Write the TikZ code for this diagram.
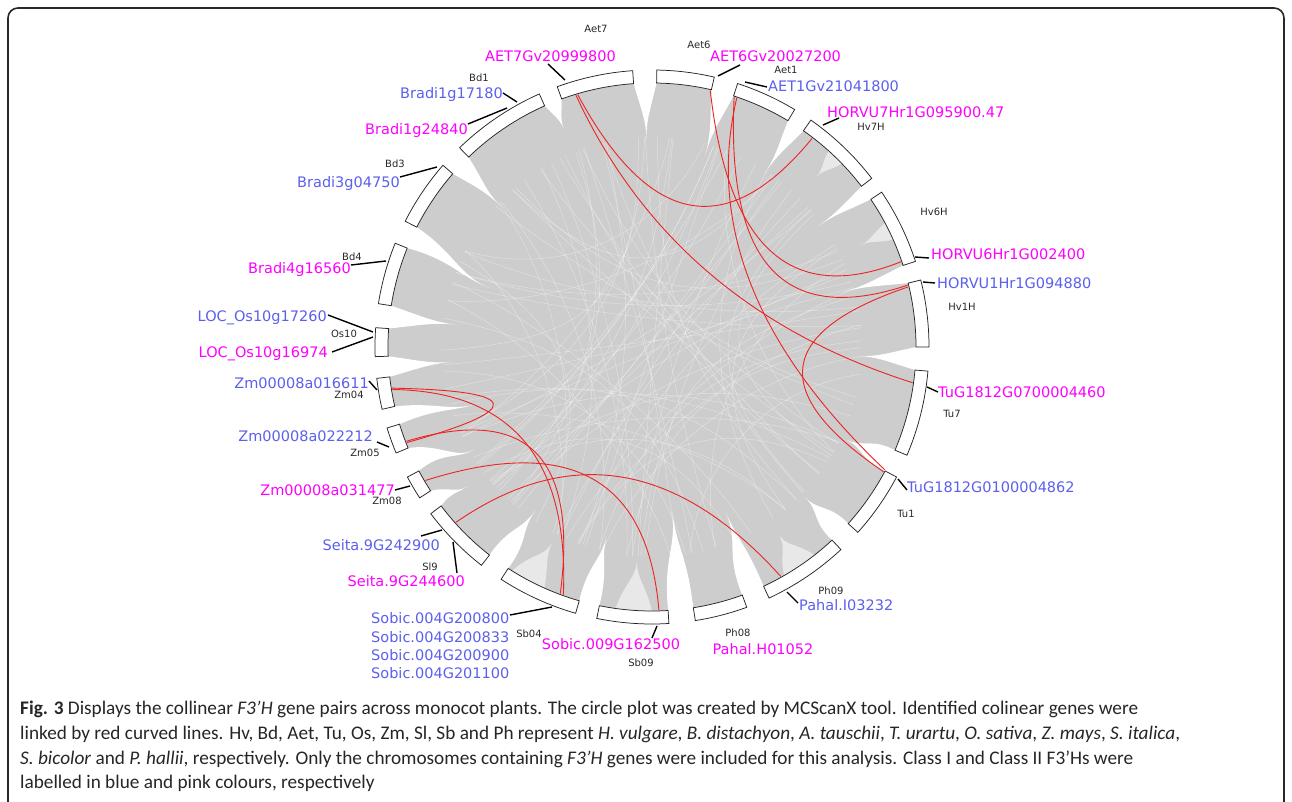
\documentclass[tikz,border=0pt]{standalone}
\usepackage{fontspec}
\setmainfont{DejaVu Sans}
\newfontfamily\capfont{Carlito}
\usetikzlibrary{calc}

\definecolor{ribbon}{RGB}{205,205,205}
\definecolor{genblue}{RGB}{92,96,236}
\definecolor{genpink}{RGB}{255,0,255}
\definecolor{linkred}{RGB}{235,35,35}
\definecolor{chrtext}{RGB}{40,40,40}
\definecolor{framecol}{RGB}{40,40,40}

\tikzset{
  chrbox/.style={fill=white, draw=black!85, line width=0.75pt},
  leaderline/.style={draw=black, line width=1.4pt},
  bluegene/.style={text=genblue, font=\fontsize{14.5}{16}\selectfont, inner sep=0pt},
  pinkgene/.style={text=genpink, font=\fontsize{14.5}{16}\selectfont, inner sep=0pt},
  chrlabel/.style={text=chrtext, font=\fontsize{10}{12}\selectfont, inner sep=0pt},
  redlink/.style={draw=linkred, line width=0.9pt},
  capline/.style={anchor=base west, inner sep=0pt, text=black!85},
  frameline/.style={draw=framecol, line width=1.6pt, rounded corners=10pt},
  streak/.style={draw=white, line width=0.5pt, opacity=0.38},
}

% chromosome box: start angle, end angle
\newcommand\chrom[2]{%
  \draw[chrbox] (#1:264) arc[start angle=#1,end angle=#2,radius=264]
    -- (#2:277) arc[start angle=#2,end angle=#1,radius=277] -- cycle;}
% white spike between chromosomes: a1, a2, tip radius, tip angle
\newcommand\spike[4]{%
  \fill[white] (#1:264.3) .. controls ({#1+0.3*(#2-#1)}:{264-0.5*(264-#3)}) and (#4:{#3+0.35*(264-#3)}) .. (#4:#3)
     .. controls (#4:{#3+0.35*(264-#3)}) and ({#2-0.3*(#2-#1)}:{264-0.5*(264-#3)}) .. (#2:264.3)
     -- (#2:270) arc[start angle=#2,end angle=#1,radius=270] -- cycle;}
% wider arch between chromosomes
\newcommand\arch[4]{%
  \fill[white] (#1:264.3) .. controls ({#1-0.1*(#2-#1)}:{264-0.55*(264-#3)}) and (#4:{#3+0.4*(264-#3)}) .. (#4:#3)
     .. controls (#4:{#3+0.4*(264-#3)}) and ({#2+0.1*(#2-#1)}:{264-0.55*(264-#3)}) .. (#2:264.3)
     -- (#2:270) arc[start angle=#2,end angle=#1,radius=270] -- cycle;}
% pale arch inside a chromosome fan
\newcommand\palearch[4]{%
  \fill[white,opacity=0.55] (#1:264.3) .. controls ({#1+0.2*(#2-#1)}:{264-0.55*(264-#3)}) and (#4:{#3+0.4*(264-#3)}) .. (#4:#3)
     .. controls (#4:{#3+0.4*(264-#3)}) and ({#2-0.2*(#2-#1)}:{264-0.55*(264-#3)}) .. (#2:264.3)
     arc[start angle=#2,end angle=#1,radius=264.3] -- cycle;}
% quadratic link between named coordinates with control point #3
\newcommand\qlink[3]{%
  \draw[redlink] (#1) .. controls ($(#1)!0.6667!#3$) and ($(#2)!0.6667!#3$) .. (#2);}
% leader line between two named coordinates
\newcommand\leader[3]{%
  \coordinate (#1a) at (#2); \coordinate (#1b) at (#3);
  \draw[leaderline] (#1a) -- (#1b);}

\newlength\capw
\newcommand\capone{\textbf{Fig. 3} Displays the collinear \textit{F3’H} gene pairs across monocot plants. The circle plot was created by MCScanX tool. Identified colinear genes were}
\newcommand\captwo{linked by red curved lines. Hv, Bd, Aet, Tu, Os, Zm, Sl, Sb and Ph represent \textit{H. vulgare}, \textit{B. distachyon}, \textit{A. tauschii}, \textit{T. urartu}, \textit{O. sativa}, \textit{Z. mays}, \textit{S. italica},}
\newcommand\capthree{\textit{S. bicolor} and \textit{P. hallii}, respectively. Only the chromosomes containing \textit{F3’H} genes were included for this analysis. Class I and Class II F3’Hs were}
\newcommand\capfour{labelled in blue and pink colours, respectively}

\begin{document}
\settowidth\capw{\capfont\fontsize{10}{12}\selectfont\capone}%
\pgfmathsetmacro\capsz{10*1118/\capw}%
\begin{tikzpicture}[x=1pt,y=1pt]

% page frame (pixel coordinates)
\begin{scope}[shift={(-652,347)},yscale=-1]
  \useasboundingbox (0,0) rectangle (1292,801);
  \fill[white] (0,0) rectangle (1292,801);
  \draw[frameline] (8,805) -- (8,8) -- (1284,8) -- (1284,805);
\end{scope}

% ribbons (grey) with faint white streaks in the middle
\fill[ribbon] (0,0) circle (264);
\begin{scope}
  \clip (0,0) circle (210);
  \pgfmathsetseed{11}
  \foreach \i in {1,...,80} {
    \pgfmathsetmacro\aa{360*rnd}
    \pgfmathsetmacro\bb{\aa+70+220*rnd}
    \pgfmathsetmacro\rc{40+90*rnd}
    \draw[streak] (\aa:262) .. controls (\aa:\rc) and (\bb:\rc) .. (\bb:262);
  }
\end{scope}

% white gaps between chromosome fans
\spike{355}{360}{206}{357.5}
\spike{14}{18}{198}{16}
\spike{34}{37.5}{205}{36}
\spike{55}{59}{207}{57}
\spike{72}{77}{199}{74.5}
\spike{89}{94}{207}{91.5}
\spike{110}{114}{235}{112}
\spike{134}{139}{206}{137}
\spike{153}{158}{172}{160}
\spike{171}{176}{196}{173.5}
\spike{182}{186.5}{200}{184.3}
\spike{193}{197}{182}{198}
\spike{202.5}{208}{205}{210}
\spike{213}{217}{232}{217}
\arch{232}{237}{201}{234.5}
\arch{254}{258.5}{194}{256.5}
\arch{273.5}{279}{164}{277}
\arch{290}{295}{181}{294}
\arch{313}{318}{215}{315.5}
\arch{332}{337}{215}{334.5}
% pale gaps inside some fans
\palearch{238}{246}{218}{243}
\palearch{262}{270}{212}{266}
\palearch{300}{308}{226}{304}
\palearch{24}{28}{232}{26}
\palearch{44}{48}{236}{46}

% chromosomes
\chrom{0}{14}      % Hv1H
\chrom{18}{34}     % Hv6H
\chrom{37.5}{55}   % Hv7H
\chrom{59}{72}     % Aet1
\chrom{77}{89}     % Aet6
\chrom{94}{110}    % Aet7
\chrom{114}{134}   % Bd1
\chrom{139}{153}   % Bd3
\chrom{158}{171}   % Bd4
\chrom{176}{182}   % Os10
\chrom{186.5}{193} % Zm04
\chrom{197}{202.5} % Zm05
\chrom{208}{213}   % Zm08
\chrom{217}{232}   % Sl9
\chrom{237}{254}   % Sb04
\chrom{258.5}{273.5} % Sb09
\chrom{279}{290}   % Ph08
\chrom{295}{313}   % Ph09
\chrom{318}{332}   % Tu1
\chrom{337}{355}   % Tu7

% link end points
\coordinate (lAet7a) at (106.4:263);
\coordinate (lAet7b) at (106.8:263);
\coordinate (lAet6) at (77.2:263);
\coordinate (lAet1a) at (71.8:263);
\coordinate (lAet1b) at (71.2:263);
\coordinate (lHv7) at (52.5:263);
\coordinate (lHv6) at (18.9:263);
\coordinate (lHv1a) at (13.6:263);
\coordinate (lHv1b) at (13.2:263);
\coordinate (lTu7) at (-7.8:263);
\coordinate (lTu1a) at (-27.8:263);
\coordinate (lTu1b) at (-28.3:263);
\coordinate (lZm04a) at (189:263);
\coordinate (lZm04b) at (189.3:263);
\coordinate (lZm05a) at (201.3:263);
\coordinate (lZm05b) at (201:263);
\coordinate (lZm08) at (210.5:263);
\coordinate (lSl9) at (221.8:263);
\coordinate (lSb04a) at (250.3:263);
\coordinate (lSb04b) at (249.6:263);
\coordinate (lSb09) at (271.5:263);
\coordinate (lPh09) at (299.3:263);

% red collinear links
\qlink{lAet7a}{lHv7}{(33,53.5)}
\qlink{lAet7b}{lTu7}{(22,40)}
\qlink{lAet6}{lHv6}{(85,20)}
\qlink{lAet1a}{lHv1a}{(70,0)}
\qlink{lAet1b}{lTu1a}{(40,60)}
\qlink{lHv1b}{lTu1b}{(58,-7)}
\qlink{lZm04a}{lZm05a}{(-65,-45)}
\qlink{lZm04b}{lSb04a}{(-80,-45)}
\qlink{lZm05b}{lSb04b}{(-65,-40)}
\qlink{lZm08}{lSb09}{(-10,-65)}
\qlink{lSl9}{lPh09}{(-26,-58)}

% labels, leaders, caption in pixel coordinates
\begin{scope}[shift={(-652,347)},yscale=-1]
  % leaders
  \leader{kAet7}{548,64}{565,80}
  \leader{kAet6}{718,76}{740,65}
  \leader{kAet1}{745,82}{767,87}
  \leader{kBdA}{503,93}{517,102}
  \leader{kBdB}{468,124}{507,108}
  \leader{kBdC}{400,177}{437,167}
  \leader{kBdD}{351,265}{386,261}
  \leader{kOsA}{328,315}{373,332}
  \leader{kOsB}{332,352}{373,337}
  \leader{kZmA}{369,381}{377,390}
  \leader{kZmB}{377,442}{389,447}
  \leader{kZmC}{395,490}{410,486}
  \leader{kSlA}{421,536}{442,530}
  \leader{kSlB}{457,573}{453,542}
  \leader{kSbA}{510,615}{552,607}
  \leader{kSbB}{652,638}{657,626}
  \leader{kPh}{787,592}{798,603}
  \leader{kTuA}{898,479}{907,490}
  \leader{kTuB}{927,387}{938,392}
  \leader{kHvA}{923,282}{935,283}
  \leader{kHvB}{915,257}{929,258}
  \leader{kHvC}{823,125}{839,118}

  % gene labels
  \node[pinkgene,anchor=base] (gAet7) at (550.5,61) {AET7Gv20999800};
  \node[pinkgene,anchor=base west] (gAet6) at (710,62) {AET6Gv20027200};
  \node[bluegene,anchor=base west] (gAet1) at (768,92) {AET1Gv21041800};
  \node[bluegene,anchor=base east] (gBd1a) at (503,98) {Bradi1g17180};
  \node[pinkgene,anchor=base east] (gBd1b) at (468,134) {Bradi1g24840};
  \node[bluegene,anchor=base east] (gBd3) at (400,187) {Bradi3g04750};
  \node[pinkgene,anchor=base east] (gBd4) at (351,273) {Bradi4g16560};
  \node[bluegene,anchor=base east] (gOsa) at (327,321) {LOC\_Os10g17260};
  \node[pinkgene,anchor=base east] (gOsb) at (328,357) {LOC\_Os10g16974};
  \node[bluegene,anchor=base east] (gZm04) at (369,388) {Zm00008a016611};
  \node[bluegene,anchor=base east] (gZm05) at (373,441) {Zm00008a022212};
  \node[pinkgene,anchor=base east] (gZm08) at (395,495) {Zm00008a031477};
  \node[bluegene,anchor=base east] (gSla) at (440,550) {Seita.9G242900};
  \node[pinkgene,anchor=base east] (gSlb) at (465,586) {Seita.9G244600};
  \node[bluegene,anchor=base west] (gSb1) at (371,623) {Sobic.004G200800};
  \node[bluegene,anchor=base west] (gSb2) at (371,642) {Sobic.004G200833};
  \node[bluegene,anchor=base west] (gSb3) at (371,660) {Sobic.004G200900};
  \node[bluegene,anchor=base west] (gSb4) at (371,678) {Sobic.004G201100};
  \node[pinkgene,anchor=base] (gSb09) at (611,649) {Sobic.009G162500};
  \node[pinkgene,anchor=base] (gPh08) at (763,654) {Pahal.H01052};
  \node[bluegene,anchor=base west] (gPh09) at (799,610) {Pahal.I03232};
  \node[bluegene,anchor=base west] (gTu1) at (907,492) {TuG1812G0100004862};
  \node[pinkgene,anchor=base west] (gTu7) at (938,397) {TuG1812G0700004460};
  \node[bluegene,anchor=base west] (gHv1) at (937,288) {HORVU1Hr1G094880};
  \node[pinkgene,anchor=base west] (gHv6) at (931,259) {HORVU6Hr1G002400};
  \node[pinkgene,anchor=base west] (gHv7) at (827,117) {HORVU7Hr1G095900.47};

  % chromosome names
  \node[chrlabel] (cAet7) at (596,29) {Aet7};
  \node[chrlabel] (cAet6) at (699,45) {Aet6};
  \node[chrlabel] (cAet1) at (786,70) {Aet1};
  \node[chrlabel] (cBd1) at (479,78) {Bd1};
  \node[chrlabel] (cBd3) at (395,164) {Bd3};
  \node[chrlabel] (cBd4) at (352,257) {Bd4};
  \node[chrlabel] (cOs10) at (344,334) {Os10};
  \node[chrlabel] (cZm04) at (349,395) {Zm04};
  \node[chrlabel] (cZm05) at (365,453) {Zm05};
  \node[chrlabel] (cZm08) at (387,501) {Zm08};
  \node[chrlabel] (cSl9) at (430,567) {Sl9};
  \node[chrlabel] (cSb04) at (529,634) {Sb04};
  \node[chrlabel] (cSb09) at (641,663) {Sb09};
  \node[chrlabel] (cPh08) at (738,633) {Ph08};
  \node[chrlabel] (cPh09) at (831,591) {Ph09};
  \node[chrlabel] (cTu1) at (906,514) {Tu1};
  \node[chrlabel] (cTu7) at (952,414) {Tu7};
  \node[chrlabel] (cHv1) at (962,307) {Hv1H};
  \node[chrlabel] (cHv6) at (934,212) {Hv6H};
  \node[chrlabel] (cHv7) at (871,127) {Hv7H};

  % caption
  \node[capline,font=\capfont\fontsize{\capsz}{\capsz}\selectfont] (cap1) at (20,714.3) {\capone};
  \node[capline,font=\capfont\fontsize{\capsz}{\capsz}\selectfont] (cap2) at (20,739.2) {\captwo};
  \node[capline,font=\capfont\fontsize{\capsz}{\capsz}\selectfont] (cap3) at (20,764) {\capthree};
  \node[capline,font=\capfont\fontsize{\capsz}{\capsz}\selectfont] (cap4) at (20,788.8) {\capfour};
\end{scope}
\end{tikzpicture}
\end{document}
